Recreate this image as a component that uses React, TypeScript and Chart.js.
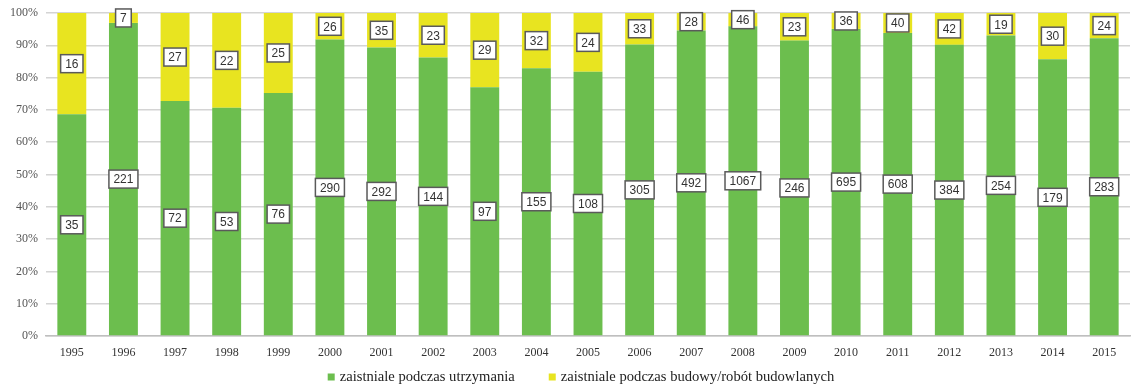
import React, { useEffect, useRef } from "react";
import { Chart, registerables } from "chart.js";

Chart.register(...registerables);

const years = ["1995","1996","1997","1998","1999","2000","2001","2002","2003","2004","2005","2006","2007","2008","2009","2010","2011","2012","2013","2014","2015"];
const maintenance = [35, 221, 72, 53, 76, 290, 292, 144, 97, 155, 108, 305, 492, 1067, 246, 695, 608, 384, 254, 179, 283];
const construction = [16, 7, 27, 22, 25, 26, 35, 23, 29, 32, 24, 33, 28, 46, 23, 36, 40, 42, 19, 30, 24];
const seriesNames = ["zaistniale podczas utrzymania", "zaistniale podczas budowy/robót budowlanych"];
const seriesColors = ["rgb(108,190,78)", "rgb(232,228,32)"];

const totals = years.map((_, i) => maintenance[i] + construction[i]);
const pctMaint = maintenance.map((v, i) => (v / totals[i]) * 100);
const pctConstr = construction.map((v, i) => (v / totals[i]) * 100);
const rawCounts = [maintenance, construction];

const labelPlugin = {
  id: "boxLabels",
  afterDatasetsDraw(chart: any) {
    const ctx = chart.ctx;
    ctx.save();
    ctx.font = "12px 'Liberation Sans', sans-serif";
    ctx.textAlign = "center";
    ctx.textBaseline = "middle";
    chart.data.datasets.forEach((ds: any, di: number) => {
      const meta = chart.getDatasetMeta(di);
      meta.data.forEach((el: any, i: number) => {
        const txt = String(rawCounts[di][i]);
        const cx = el.x;
        let cy = (el.y + el.base) / 2;
        const w = ctx.measureText(txt).width + 9;
        const h = 18;
        const top = chart.chartArea.top;
        if (cy - h / 2 < top - 6) cy = top - 6 + h / 2;
        ctx.fillStyle = "#ffffff";
        ctx.fillRect(cx - w / 2, cy - h / 2, w, h);
        ctx.strokeStyle = "#5a5a5a";
        ctx.lineWidth = 1.5;
        ctx.strokeRect(cx - w / 2, cy - h / 2, w, h);
        ctx.fillStyle = "#333333";
        ctx.fillText(txt, cx, cy + 1);
      });
    });
    ctx.restore();
  },
};

const legendPlugin = {
  id: "customLegend",
  afterDraw(chart: any) {
    const ctx = chart.ctx;
    ctx.save();
    ctx.font = "14.6px 'Liberation Serif', serif";
    ctx.textBaseline = "middle";
    ctx.textAlign = "left";
    const box = 7;
    const gapBoxText = 5;
    const gapItems = 34;
    const widths = seriesNames.map((n) => ctx.measureText(n).width);
    const total = widths.reduce((a, w) => a + box + gapBoxText + w, 0) + gapItems;
    let x = 581 - total / 2;
    const y = 377;
    seriesNames.forEach((n, i) => {
      ctx.fillStyle = seriesColors[i];
      ctx.fillRect(x, y - box / 2, box, box);
      x += box + gapBoxText;
      ctx.fillStyle = "#222";
      ctx.fillText(n, x, y);
      x += widths[i] + gapItems;
    });
    ctx.restore();
  },
};

export default function App() {
  const ref = useRef<HTMLCanvasElement>(null);
  useEffect(() => {
    document.body.style.margin = "0";
    const chart = new Chart(ref.current!, {
      type: "bar",
      data: {
        labels: years,
        datasets: [
          { label: seriesNames[0], data: pctMaint, backgroundColor: seriesColors[0], barPercentage: 0.56, categoryPercentage: 1 },
          { label: seriesNames[1], data: pctConstr, backgroundColor: seriesColors[1], barPercentage: 0.56, categoryPercentage: 1 },
        ],
      },
      options: {
        responsive: false,
        animation: false,
        layout: { padding: { top: 13, right: 1, left: 0, bottom: 27 } },
        plugins: {
          tooltip: { enabled: false },
          legend: { display: false },
        },
        scales: {
          x: {
            stacked: true,
            grid: { display: false },
            border: { color: "#bfbfbf", width: 1.5 },
            ticks: { color: "#333", font: { family: "'Liberation Serif', serif", size: 12 }, padding: 2, maxRotation: 0 },
            afterFit: (s: any) => { s.height = 24; },
          },
          y: {
            stacked: true,
            min: 0,
            max: 100,
            grid: { color: "#d4d4d4", lineWidth: 1.5, drawTicks: false },
            border: { display: false },
            ticks: {
              stepSize: 10,
              color: "#555",
              padding: 8,
              font: { family: "'Liberation Serif', serif", size: 12 },
              callback: (v: any) => `${v}%`,
            },
            afterFit: (s: any) => { s.width = 46; s.paddingTop = 0; s.paddingBottom = 0; },
          },
        },
      },
      plugins: [labelPlugin, legendPlugin],
    });
    return () => chart.destroy();
  }, []);
  return (
    <div style={{ width: 1131, height: 387 }}>
      <canvas ref={ref} width={1131} height={387} />
    </div>
  );
}
